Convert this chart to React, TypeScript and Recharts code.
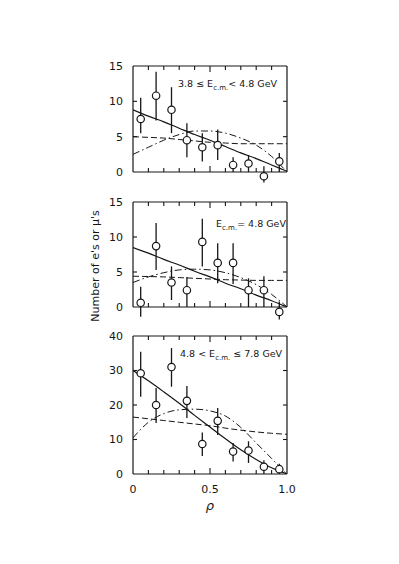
import React from 'react';
import { ComposedChart, Line, Scatter, XAxis, YAxis, ErrorBar } from 'recharts';

// rho bin centres for the measured points
const RHO_BINS = [0.05, 0.15, 0.25, 0.35, 0.45, 0.55, 0.65, 0.75, 0.85, 0.95];
// rho grid for the model curves
const CURVE_RHO = [0, 0.1, 0.2, 0.3, 0.4, 0.5, 0.6, 0.7, 0.8, 0.9, 1.0];
const X_TICKS = [0.1, 0.2, 0.3, 0.4, 0.5, 0.6, 0.7, 0.8, 0.9];
const X_LABEL_TICKS = [0, 0.5, 1.0];

// panel 1: 3.8 <= Ecm < 4.8 GeV
const P1_COUNTS = [7.5, 10.8, 8.8, 4.5, 3.5, 3.8, 1.0, 1.2, -0.6, 1.5];
const P1_LOW = [5.5, 7.3, 5.5, 2.1, 1.5, 1.7, 0, 0, -1.5, 0];
const P1_HIGH = [10.5, 14.2, 12.0, 6.9, 5.5, 6.0, 2.1, 2.4, 0.8, 2.7];
const P1_SOLID = [8.8, 7.9, 7.1, 6.2, 5.3, 4.5, 3.6, 2.7, 1.9, 1.0, 0.1];
const P1_DASHED = [5.0, 4.9, 4.8, 4.6, 4.4, 4.2, 4.1, 4.0, 4.0, 4.0, 4.0];
const P1_DASHDOT = [2.5, 3.5, 4.5, 5.3, 5.8, 5.8, 5.5, 4.8, 3.8, 2.2, 0];
const P1_YTICKS = [0, 5, 10, 15];

// panel 2: Ecm = 4.8 GeV
const P2_COUNTS = [0.6, 8.7, 3.5, 2.4, 9.3, 6.3, 6.3, 2.4, 2.4, -0.7];
const P2_LOW = [-1.4, 5.3, 1.0, 0, 5.8, 3.4, 3.3, 0, 0, -1.8];
const P2_HIGH = [2.9, 12.0, 5.8, 4.3, 12.6, 9.1, 9.1, 4.1, 4.4, 0.8];
const P2_SOLID = [8.5, 7.7, 6.8, 6.0, 5.1, 4.3, 3.4, 2.6, 1.7, 0.9, 0];
const P2_DASHED = [4.4, 4.35, 4.3, 4.2, 4.1, 4.0, 3.9, 3.85, 3.8, 3.8, 3.8];
const P2_DASHDOT = [3.5, 4.3, 4.9, 5.3, 5.4, 5.3, 4.9, 4.2, 3.2, 1.8, 0];
const P2_YTICKS = [0, 5, 10, 15];

// panel 3: 4.8 < Ecm <= 7.8 GeV
const P3_COUNTS = [29.2, 20.0, 31.0, 21.2, 8.7, 15.4, 6.5, 6.8, 2.1, 1.4];
const P3_LOW = [22.4, 14.8, 25.3, 16.2, 5.2, 11.3, 3.6, 3.2, 0, 0];
const P3_HIGH = [35.4, 24.9, 36.5, 25.5, 12.0, 19.1, 9.0, 9.5, 4.0, 3.0];
const P3_SOLID = [30, 27, 23.8, 20.5, 17, 13.6, 10.2, 7, 4.2, 1.8, 0];
const P3_DASHED = [16.5, 16, 15.5, 15, 14.5, 14, 13.3, 12.7, 12.2, 11.8, 11.5];
const P3_DASHDOT = [10.5, 15, 17.5, 18.6, 18.8, 18.3, 16.8, 13.5, 9, 4.5, 0];
const P3_YTICKS = [0, 10, 20, 30, 40];

const INK = '#161616';
const FONT = 'DejaVu Sans, sans-serif';
const TICK_LEN = 4;

const curve = (ys: number[]) => CURVE_RHO.map((x, i) => ({ x, y: ys[i] }));

const points = (c: number[], lo: number[], hi: number[]) =>
  RHO_BINS.map((x, i) => ({ x, y: c[i], err: [c[i] - lo[i], hi[i] - c[i]] }));

function OpenCircle(props: any) {
  const { cx, cy } = props;
  return <circle cx={cx} cy={cy} r={3.7} fill="#fff" stroke={INK} strokeWidth={1.2} />;
}

// inward tick marks, placed by the scatter at the frame position of each tick value
function TickMark(props: any) {
  const { cx, cy, side, payload } = props;
  const long = (side === 'b' || side === 't') && Math.abs((payload?.x ?? 0) - 0.5) < 1e-6;
  const len = long ? TICK_LEN + 2 : TICK_LEN;
  let d = '';
  if (side === 'b') d = `M${cx},${cy}V${cy - len}`;
  if (side === 't') d = `M${cx},${cy}V${cy + len}`;
  if (side === 'l') d = `M${cx},${cy}H${cx + len}`;
  if (side === 'r') d = `M${cx},${cy}H${cx - len}`;
  return <path d={d} stroke={INK} strokeWidth={1.1} fill="none" />;
}

const xLabel = (v: number) => (v === 0 ? '0' : v === 1 ? '1.0' : String(v));

interface PanelProps {
  top: number;
  height: number;
  marginTop: number;
  marginBottom: number;
  xAxisHeight: number;
  yMax: number;
  yTicks: number[];
  counts: number[];
  low: number[];
  high: number[];
  solid: number[];
  dashed: number[];
  dashdot: number[];
  showXLabels?: boolean;
}

function Panel(p: PanelProps) {
  const tickStyle = { fontSize: 11, fill: INK, fontFamily: FONT };
  const frame = { stroke: INK, strokeWidth: 1.2 };
  const innerY = p.yTicks.filter((t) => t > 0 && t < p.yMax);
  const bottomTicks = X_TICKS.map((x) => ({ x, y: 0 }));
  const topTicks = X_TICKS.map((x) => ({ x, y: p.yMax }));
  const leftTicks = innerY.map((y) => ({ x: 0, y }));
  const rightTicks = innerY.map((y) => ({ x: 1, y }));
  return (
    <div style={{ position: 'absolute', left: 0, top: p.top }}>
      <ComposedChart
        width={399}
        height={p.height}
        margin={{ top: p.marginTop, right: 111, bottom: p.marginBottom, left: 93 }}
      >
        {/* frame */}
        <XAxis dataKey="x" type="number" domain={[0, 1]} allowDataOverflow height={1}
          tick={false} axisLine={frame} tickLine={false} />
        <XAxis xAxisId="top" orientation="top" dataKey="x" type="number" domain={[0, 1]}
          allowDataOverflow height={1} tick={false} axisLine={frame} tickLine={false} />
        <YAxis dataKey="y" type="number" domain={[0, p.yMax]} allowDataOverflow width={1}
          tick={false} axisLine={frame} tickLine={false} />
        <YAxis yAxisId="right" orientation="right" dataKey="y" type="number"
          domain={[0, p.yMax]} allowDataOverflow width={1} tick={false}
          axisLine={frame} tickLine={false} />
        {/* tick labels */}
        <XAxis xAxisId="lab" dataKey="x" type="number" domain={[0, 1]}
          ticks={p.showXLabels ? X_LABEL_TICKS : []} interval={0} allowDataOverflow
          height={p.xAxisHeight - 1} tickSize={0} tickMargin={10}
          tickFormatter={xLabel} tick={p.showXLabels ? tickStyle : false}
          axisLine={false} tickLine={false} />
        <YAxis yAxisId="lab" dataKey="y" type="number" domain={[0, p.yMax]} ticks={p.yTicks}
          interval={0} allowDataOverflow width={39} tickSize={0} tickMargin={9}
          tick={tickStyle} axisLine={false} tickLine={false} />

        {/* inward tick marks on all four sides of the frame */}
        <Scatter data={bottomTicks} dataKey="y" shape={<TickMark side="b" />} isAnimationActive={false} />
        <Scatter data={topTicks} dataKey="y" shape={<TickMark side="t" />} isAnimationActive={false} />
        <Scatter data={leftTicks} dataKey="y" shape={<TickMark side="l" />} isAnimationActive={false} />
        <Scatter data={rightTicks} dataKey="y" shape={<TickMark side="r" />} isAnimationActive={false} />

        <Line data={curve(p.dashed)} dataKey="y" type="monotone" stroke={INK} strokeWidth={1}
          strokeDasharray="6 3" dot={false} isAnimationActive={false} />
        <Line data={curve(p.dashdot)} dataKey="y" type="monotone" stroke={INK} strokeWidth={1}
          strokeDasharray="7 3 1.5 3" dot={false} isAnimationActive={false} />
        <Line data={curve(p.solid)} dataKey="y" type="monotone" stroke={INK} strokeWidth={1.2}
          dot={false} isAnimationActive={false} />
        <Scatter data={points(p.counts, p.low, p.high)} dataKey="y" shape={<OpenCircle />}
          isAnimationActive={false}>
          <ErrorBar dataKey="err" direction="y" width={0} stroke={INK} strokeWidth={1.3} />
        </Scatter>
      </ComposedChart>
    </div>
  );
}

const noteStyle: React.CSSProperties = {
  position: 'absolute',
  fontFamily: FONT,
  fontSize: 9.5,
  color: INK,
  whiteSpace: 'nowrap',
  lineHeight: '12px',
};
const subStyle: React.CSSProperties = { fontSize: 7, verticalAlign: '-3px' };

export default function App() {
  return (
    <div style={{ position: 'absolute', left: 0, top: 0, width: 399, height: 564, background: '#fff' }}>
      <style>{'.recharts-wrapper g[clip-path]{clip-path:none !important}'}</style>
      <Panel top={0} height={190} marginTop={65} marginBottom={0} xAxisHeight={18}
        yMax={15} yTicks={P1_YTICKS} counts={P1_COUNTS} low={P1_LOW} high={P1_HIGH}
        solid={P1_SOLID} dashed={P1_DASHED} dashdot={P1_DASHDOT} />
      <Panel top={190} height={140} marginTop={11} marginBottom={0} xAxisHeight={23}
        yMax={15} yTicks={P2_YTICKS} counts={P2_COUNTS} low={P2_LOW} high={P2_HIGH}
        solid={P2_SOLID} dashed={P2_DASHED} dashdot={P2_DASHDOT} />
      <Panel top={330} height={190} marginTop={5} marginBottom={22} xAxisHeight={24}
        yMax={40} yTicks={P3_YTICKS} counts={P3_COUNTS} low={P3_LOW} high={P3_HIGH}
        solid={P3_SOLID} dashed={P3_DASHED} dashdot={P3_DASHDOT} showXLabels />

      <div style={{ ...noteStyle, left: 178, top: 78 }}>
        3.8 ≤ E<span style={subStyle}>c.m.</span>&lt; 4.8 GeV
      </div>
      <div style={{ ...noteStyle, left: 216, top: 218 }}>
        E<span style={subStyle}>c.m.</span>= 4.8 GeV
      </div>
      <div style={{ ...noteStyle, left: 180, top: 348 }}>
        4.8 &lt; E<span style={subStyle}>c.m.</span> ≤ 7.8 GeV
      </div>

      <div
        style={{
          position: 'absolute',
          left: 95,
          top: 266,
          transform: 'translate(-50%, -50%) rotate(-90deg)',
          fontFamily: FONT,
          fontSize: 11,
          color: INK,
          whiteSpace: 'nowrap',
        }}
      >
        Number of e's or μ's
      </div>
      <div
        style={{
          position: 'absolute',
          left: 210,
          top: 505,
          transform: 'translate(-50%, -50%)',
          fontFamily: FONT,
          fontSize: 13,
          fontStyle: 'italic',
          color: INK,
        }}
      >
        ρ
      </div>
    </div>
  );
}
